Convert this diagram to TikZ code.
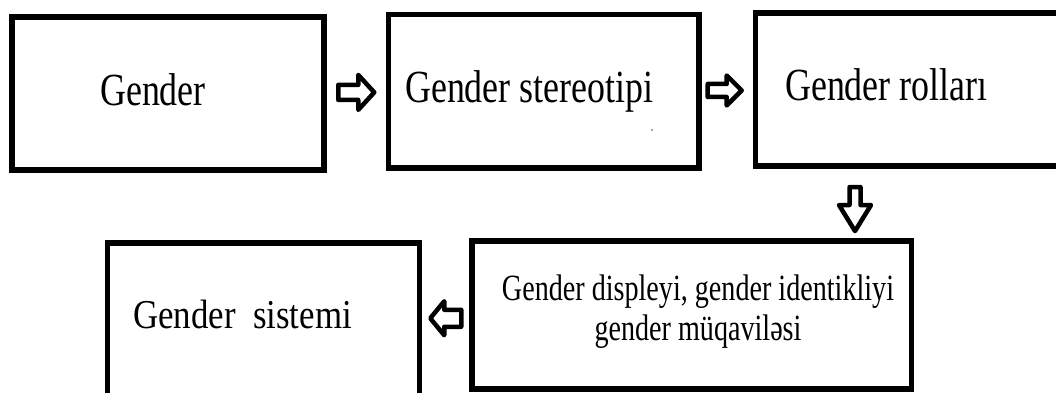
\documentclass[tikz,border=0pt]{standalone}
\usepackage{fontspec}
\setmainfont{Liberation Serif}
\newfontfamily\fa[FakeStretch=0.78]{Liberation Serif}
\newfontfamily\fb[FakeStretch=0.85]{Liberation Serif}
\newfontfamily\fc[FakeStretch=0.76]{Liberation Serif}
\usetikzlibrary{calc}
\begin{document}
\begin{tikzpicture}[x=1pt,y=-1pt,
  box/.style={draw=black,line width=5.5pt,rectangle,inner sep=0pt,fill=none},
  lbl/.style={inner sep=0pt,text=black},
  pics/barrow/.style n args={4}{code={
    \draw[line width=4.5pt,line join=round,black,fill=white]
      (-#1/2,-#3/2) -- (#1/2-#4,-#3/2) -- (#1/2-#4,-#2/2) -- (#1/2,0)
      -- (#1/2-#4,#2/2) -- (#1/2-#4,#3/2) -- (-#1/2,#3/2) -- cycle;
  }}]
\useasboundingbox[fill=white] (0,0) rectangle (1056,392);
\begin{scope}
\clip (0,0) rectangle (1056,392);
% boxes
\node[box,minimum width=312pt,minimum height=153pt] (b1) at (168,93.5) {};
\node[box,minimum width=310.5pt,minimum height=153.5pt] (b2) at (543.75,91.25) {};
\node[box,minimum width=306.5pt,minimum height=153pt] (b3) at (908.75,89.5) {};
\node[box,minimum width=312pt,minimum height=157pt] (b4) at (263.5,321.5) {};
\node[box,minimum width=439.5pt,minimum height=148pt] (b5) at (691.75,315) {};
\end{scope}
% texts
\node[lbl,anchor=base west] (t1) at (100,105) {\fa\fontsize{46}{50}\selectfont Gender};
\node[lbl,anchor=base west] (t2) at (405,102) {\fa\fontsize{46}{50}\selectfont Gender stereotipi};
\node[lbl,anchor=base west] (t3) at (785,100) {\fa\fontsize{46}{50}\selectfont Gender rolları};
\node[lbl,anchor=base west] (t4) at (133,328) {\fb\fontsize{41}{45}\selectfont Gender\ \ sistemi};
\node[lbl,anchor=base,align=center,font=\fc\fontsize{37}{40}\selectfont] (t5) at (698,340)
  {Gender displeyi, gender identikliyi\\gender müqaviləsi};
\fill[black!70] (652,130) circle (0.9pt);
% arrows between boxes
\coordinate (m12) at ($(b1.east)!0.5!(b2.west)$);
\coordinate (m23) at ($(b2.east)!0.45!(b3.west)$);
\coordinate (m54) at ($(b5.west)!0.5!(b4.east)$);
\coordinate (dx) at (855,0);
\coordinate (dm) at ($(b3.south)!0.58!(b5.north)$);
\pic at (m12) {barrow={36}{35}{15}{16}};
\pic at (m23) {barrow={34}{30}{13}{15}};
\pic[rotate=180] at (m54) {barrow={31}{34}{17}{14}};
\pic[rotate=-90] at (dx |- dm) {barrow={44}{32}{11}{26}};
\end{tikzpicture}
\end{document}
